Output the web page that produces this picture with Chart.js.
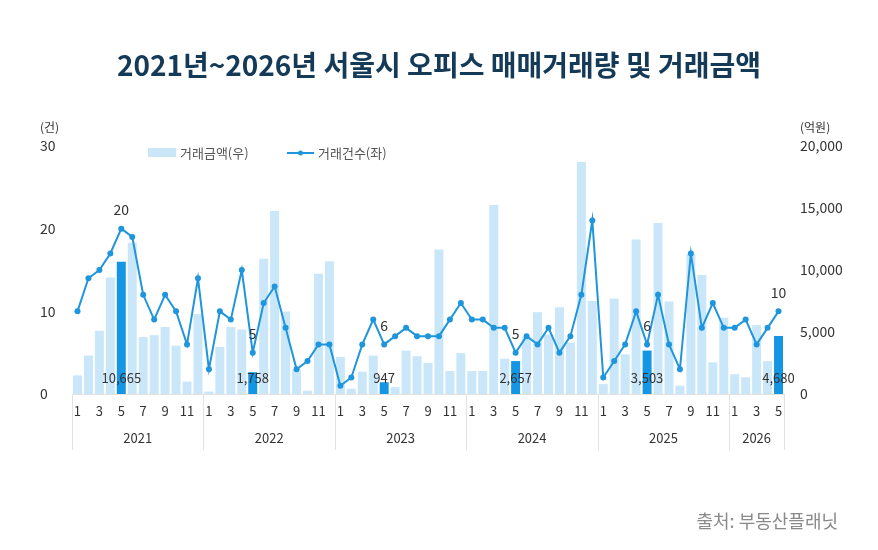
<!DOCTYPE html>
<html>
<head>
<meta charset="utf-8">
<script src="https://cdn.jsdelivr.net/npm/chart.js@4.4.1/dist/chart.umd.min.js"></script>
<style>
html, body { margin: 0; padding: 0; background: #fff; }
</style>
</head>
<body>
<canvas id="chart" width="878" height="550"></canvas>
<script>
const years = [2021, 2022, 2023, 2024, 2025, 2026]
const monthsInYear = [12, 12, 12, 12, 12, 5]
const highlightMonth = 5

// 거래건수 (건, left axis)
const counts = [
	10, 14, 15, 17, 20, 19, 12, 9, 12, 10, 6, 14,
	3, 10, 9, 15, 5, 11, 13, 8, 3, 4, 6, 6,
	1, 2, 6, 9, 6, 7, 8, 7, 7, 7, 9, 11,
	9, 9, 8, 8, 5, 7, 6, 8, 5, 7, 12, 21,
	2, 4, 6, 10, 6, 12, 6, 3, 17, 8, 11, 8,
	8, 9, 6, 8, 10
]

// 거래금액 (억원, right axis)
const amounts = [
	1500, 3100, 5100, 9400, 10665, 12200, 4600, 4750, 5400, 3900, 1000, 6450,
	200, 3800, 5400, 5200, 1758, 10900, 14750, 6650, 1950, 270, 9700, 10700,
	3000, 430, 1800, 3100, 947, 550, 3500, 3050, 2500, 11650, 1850, 3300,
	1850, 1850, 15250, 2850, 2657, 4600, 6600, 4800, 7000, 4150, 18700, 7500,
	800, 7700, 3200, 12450, 3503, 13800, 7450, 670, 11300, 9600, 2550, 6150,
	1600, 1350, 5550, 2650, 4680
]

const countTicks = [0, 10, 20, 30]
const amountTicks = [0, 5000, 10000, 15000, 20000]

const colors = {
	bar: '#c9e7f9',
	barHi: '#1496e4',
	line: '#1f96dc',
	text: '#333333',
	title: '#143a58',
	axis: '#e2e2e2'
}
const fontFamily = "'Noto Sans CJK KR', 'Noto Sans', sans-serif"

const monthOf = []
const yearOf = []
years.forEach((y, yi) => {
	for (let m = 1; m <= monthsInYear[yi]; m++) {
		monthOf.push(m)
		yearOf.push(y)
	}
})
const labels = monthOf.map((m, i) => yearOf[i] + '-' + m)
const isHi = monthOf.map((m) => m === highlightMonth)

const fmt = (v) => v.toLocaleString('en-US')

const extras = {
	id: 'extras',
	afterDatasetsDraw(chart) {
		const ctx = chart.ctx
		const barMeta = chart.getDatasetMeta(1)
		const lineMeta = chart.getDatasetMeta(0)
		ctx.save()
		ctx.fillStyle = colors.text
		ctx.textAlign = 'center'
		ctx.textBaseline = 'middle'
		const base = chart.scales.yR.getPixelForValue(0)
		isHi.forEach((hi, i) => {
			if (!hi) return
			const bar = barMeta.data[i]
			ctx.font = '13px ' + fontFamily
			ctx.fillText(fmt(amounts[i]), bar.x, base - 16)
			const pt = lineMeta.data[i]
			ctx.font = '14px ' + fontFamily
			ctx.fillText(String(counts[i]), pt.x, pt.y - 19)
		})
		ctx.restore()
	},
	afterDraw(chart) {
		const ctx = chart.ctx
		const x = chart.scales.x
		const area = chart.chartArea
		ctx.save()

		// title
		ctx.fillStyle = colors.title
		ctx.font = 'bold 28px ' + fontFamily
		ctx.textAlign = 'center'
		ctx.textBaseline = 'middle'
		ctx.fillText('2021년~2026년 서울시 오피스 매매거래량 및 거래금액', 439, 65)

		// axis units
		ctx.fillStyle = colors.text
		ctx.font = '12px ' + fontFamily
		ctx.textAlign = 'left'
		ctx.fillText('(건)', 40, 127)
		ctx.fillText('(억원)', 800, 127)

		// legend
		ctx.fillStyle = colors.bar
		ctx.fillRect(148, 148, 28, 9)
		ctx.fillStyle = '#555'
		ctx.font = '13px ' + fontFamily
		ctx.fillText('거래금액(우)', 180, 153)
		ctx.strokeStyle = colors.line
		ctx.lineWidth = 2
		ctx.beginPath()
		ctx.moveTo(287, 153)
		ctx.lineTo(314, 153)
		ctx.stroke()
		ctx.fillStyle = colors.line
		ctx.beginPath()
		ctx.arc(300.5, 153, 2.5, 0, Math.PI * 2)
		ctx.fill()
		ctx.fillStyle = '#555'
		ctx.fillText('거래건수(좌)', 318, 153)

		// year groups under the month ticks
		ctx.strokeStyle = colors.axis
		ctx.lineWidth = 1
		let start = 0
		years.forEach((y, yi) => {
			const end = start + monthsInYear[yi] - 1
			const half = (x.getPixelForValue(1) - x.getPixelForValue(0)) / 2
			const left = x.getPixelForValue(start) - half
			const right = x.getPixelForValue(end) + half
			ctx.beginPath()
			ctx.moveTo(Math.round(left) + 0.5, area.bottom)
			ctx.lineTo(Math.round(left) + 0.5, area.bottom + 56)
			ctx.stroke()
			if (yi === years.length - 1) {
				ctx.beginPath()
				ctx.moveTo(Math.round(right) + 0.5, area.bottom)
				ctx.lineTo(Math.round(right) + 0.5, area.bottom + 56)
				ctx.stroke()
			}
			ctx.fillStyle = colors.text
			ctx.font = '13px ' + fontFamily
			ctx.textAlign = 'center'
			ctx.fillText(String(y), (left + right) / 2, area.bottom + 44)
			start = end + 1
		})

		// source
		ctx.fillStyle = '#8a8a8a'
		ctx.font = '18px ' + fontFamily
		ctx.textAlign = 'right'
		ctx.fillText('출처: 부동산플래닛', 838, 521)
		ctx.restore()
	}
}

new Chart('chart', {
	type: 'bar',
	data: {
		labels: labels,
		datasets: [
			{
				type: 'line',
				label: '거래건수(좌)',
				data: counts,
				yAxisID: 'yL',
				borderColor: colors.line,
				backgroundColor: colors.line,
				borderWidth: 2,
				pointRadius: 3,
				pointBackgroundColor: colors.line,
				pointBorderWidth: 0,
				tension: 0,
				order: 0
			},
			{
				type: 'bar',
				label: '거래금액(우)',
				data: amounts,
				yAxisID: 'yR',
				backgroundColor: isHi.map((h) => h ? colors.barHi : colors.bar),
				barPercentage: 0.82,
				categoryPercentage: 1,
				order: 1
			}
		]
	},
	options: {
		responsive: false,
		animation: false,
		layout: { padding: { left: 40, top: 146, right: 0, bottom: 0 } },
		plugins: {
			legend: { display: false },
			tooltip: { enabled: false },
			title: { display: false }
		},
		scales: {
			x: {
				offset: true,
				grid: { display: false, drawTicks: false },
				border: { display: true, color: colors.axis },
				ticks: {
					autoSkip: false,
					maxRotation: 0,
					padding: 9,
					color: colors.text,
					font: { size: 13, family: fontFamily },
					callback: (v, i) => monthOf[i] % 2 === 1 ? String(monthOf[i]) : ''
				},
				afterFit: (s) => { s.height = 156 }
			},
			yL: {
				position: 'left',
				min: countTicks[0],
				max: countTicks[countTicks.length - 1],
				afterBuildTicks: (s) => { s.ticks = countTicks.map((v) => ({ value: v })) },
				grid: { display: false, drawTicks: false },
				border: { display: false },
				ticks: {
					crossAlign: 'far',
					color: colors.text,
					font: { size: 14, family: fontFamily }
				},
				afterFit: (s) => { s.width = 32 }
			},
			yR: {
				position: 'right',
				min: amountTicks[0],
				max: amountTicks[amountTicks.length - 1],
				afterBuildTicks: (s) => { s.ticks = amountTicks.map((v) => ({ value: v })) },
				grid: { display: false, drawTicks: false },
				border: { display: false },
				ticks: {
					padding: 16,
					color: colors.text,
					font: { size: 14, family: fontFamily },
					callback: (v) => fmt(v)
				},
				afterFit: (s) => { s.width = 94 }
			}
		}
	},
	plugins: [extras]
})
</script>
</body>
</html>
